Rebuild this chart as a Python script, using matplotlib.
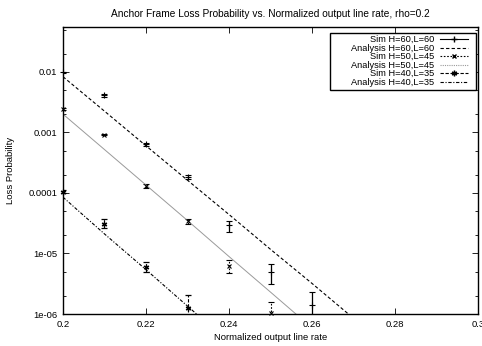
import numpy as np
import matplotlib.pyplot as plt
from matplotlib.lines import Line2D
from matplotlib.patches import Rectangle
from matplotlib.ticker import LogLocator, NullFormatter

plt.rcParams['font.family'] = ['Liberation Sans', 'DejaVu Sans']
plt.rcParams['font.size'] = 6.8

# simulation points with error bar limits
sim60_x = [0.20, 0.21, 0.22, 0.23, 0.24, 0.25, 0.26]
sim60_y = [9.8e-3, 4.1e-3, 6.4e-4, 1.85e-4, 2.9e-5, 4.9e-6, 1.4e-6]
sim60_lo = [9.5e-3, 3.9e-3, 6.0e-4, 1.7e-4, 2.3e-5, 3.1e-6, 0.9e-6]
sim60_hi = [1.01e-2, 4.3e-3, 6.8e-4, 2.0e-4, 3.5e-5, 6.6e-6, 2.35e-6]

sim50_x = [0.20, 0.21, 0.22, 0.23, 0.24, 0.25]
sim50_y = [2.4e-3, 9.2e-4, 1.3e-4, 3.4e-5, 6.3e-6, 1.05e-6]
sim50_lo = [2.3e-3, 8.9e-4, 1.22e-4, 3.1e-5, 4.7e-6, 0.95e-6]
sim50_hi = [2.5e-3, 9.5e-4, 1.38e-4, 3.7e-5, 7.7e-6, 1.6e-6]

sim40_x = [0.20, 0.21, 0.22, 0.23]
sim40_y = [1.05e-4, 3.1e-5, 6.0e-6, 1.28e-6]
sim40_lo = [0.98e-4, 2.6e-5, 5.0e-6, 0.9e-6]
sim40_hi = [1.1e-4, 3.7e-5, 7.3e-6, 2.05e-6]

# analysis curves
ana60_x = [0.20, 0.21, 0.22, 0.23, 0.24, 0.25, 0.26, 0.27]
ana60_y = [8.3e-3, 2.24e-3, 6.0e-4, 1.62e-4, 4.4e-5, 1.17e-5, 3.2e-6, 8.5e-7]
ana50_x = [0.20, 0.21, 0.22, 0.23, 0.24, 0.25, 0.26]
ana50_y = [2.0e-3, 5.2e-4, 1.35e-4, 3.5e-5, 8.9e-6, 2.3e-6, 5.9e-7]
ana40_x = [0.20, 0.21, 0.22, 0.23, 0.24]
ana40_y = [8.5e-5, 2.1e-5, 5.4e-6, 1.35e-6, 3.4e-7]

xticks = [0.2, 0.22, 0.24, 0.26, 0.28, 0.3]
xtick_labels = ['0.2', '0.22', '0.24', '0.26', '0.28', '0.3']
yticks = [1e-6, 1e-5, 1e-4, 1e-3, 1e-2]
ytick_labels = ['1e-06', '1e-05', '0.0001', '0.001', '0.01']

fig = plt.figure(figsize=(4.82, 3.46), dpi=100)
ax = fig.add_axes([63/482, 32/346, 415/482, 287/346])

def errs(y, lo, hi):
    y = np.array(y); return [y - np.array(lo), np.array(hi) - y]

e = ax.errorbar(sim60_x, sim60_y, yerr=errs(sim60_y, sim60_lo, sim60_hi), fmt='+', color='k',
                ms=4, mew=0.8, elinewidth=0.9, capsize=2, capthick=0.8)
e[0].set_clip_on(False)
ax.plot(ana60_x, ana60_y, color='k', ls=(0, (3, 2)), lw=0.8)
e = ax.errorbar(sim50_x, sim50_y, yerr=errs(sim50_y, sim50_lo, sim50_hi), fmt='x', color='k',
                ms=3.5, mew=0.8, elinewidth=0.8, capsize=2, capthick=0.8)
e[0].set_clip_on(False)
e[2][0].set_linestyle((0, (1.5, 1.5)))
ax.plot(ana50_x, ana50_y, color='#9a9a9a', ls='-', lw=0.7)
e = ax.errorbar(sim40_x, sim40_y, yerr=errs(sim40_y, sim40_lo, sim40_hi), fmt='o', color='k',
                marker=(6, 2, 0), ms=4, mew=0.9, elinewidth=0.8, capsize=2, capthick=0.8)
e[0].set_clip_on(False)
e[2][0].set_linestyle((0, (3, 1.5)))
ax.plot(ana40_x, ana40_y, color='k', ls=(0, (3, 1.5, 1, 1.5)), lw=0.8)

ax.set_yscale('log')
ax.set_xlim(0.2, 0.3)
ax.set_ylim(1e-6, 0.055)
ax.set_xticks(xticks)
ax.set_xticklabels(xtick_labels)
ax.set_yticks(yticks)
ax.set_yticklabels(ytick_labels)
ax.yaxis.set_minor_locator(LogLocator(base=10, subs=(2, 5)))
ax.yaxis.set_minor_formatter(NullFormatter())
ax.tick_params(which='both', direction='in', top=True, right=True, width=0.6)
ax.tick_params(which='major', length=4, pad=4)
ax.tick_params(which='minor', length=2)
for s in ax.spines.values():
    s.set_linewidth(1.0)

ax.set_title('Anchor Frame Loss Probability vs. Normalized output line rate, rho=0.2',
             fontsize=7.3, pad=7)
ax.set_xlabel('Normalized output line rate', labelpad=3)
ax.set_ylabel('Loss Probability', labelpad=10)

handles = [
    Line2D([], [], color='k', ls='-', marker='+', ms=4, lw=0.8),
    Line2D([], [], color='k', ls=(0, (3, 2)), lw=0.8),
    Line2D([], [], color='k', ls=(0, (1.5, 1.5)), marker='x', ms=3.5, lw=0.8),
    Line2D([], [], color='#9a9a9a', ls=(0, (1, 1)), lw=0.8),
    Line2D([], [], color='k', ls=(0, (3, 1.5)), marker=(6, 2, 0), ms=4, lw=0.8),
    Line2D([], [], color='k', ls=(0, (3, 1.5, 1, 1.5)), lw=0.8),
]
labels = ['Sim H=60,L=60', 'Analysis H=60,L=60', 'Sim H=50,L=45',
          'Analysis H=50,L=45', 'Sim H=40,L=35', 'Analysis H=40,L=35']
leg = ax.legend(handles, labels, loc='center right', bbox_to_anchor=(0.975, 0.8815),
                borderaxespad=0, markerfirst=False, frameon=False, fontsize=6.7,
                labelspacing=-0.05, handlelength=3.0, handleheight=0.5,
                handletextpad=0.6, borderpad=0)
# gnuplot style key box
ax.add_patch(Rectangle((0.643, 0.779), 0.3515, 0.201, transform=ax.transAxes,
                       fill=True, facecolor='white', edgecolor='k', lw=1.0, zorder=4))
leg.set_zorder(5)

fig.savefig('out.png', dpi=100)
